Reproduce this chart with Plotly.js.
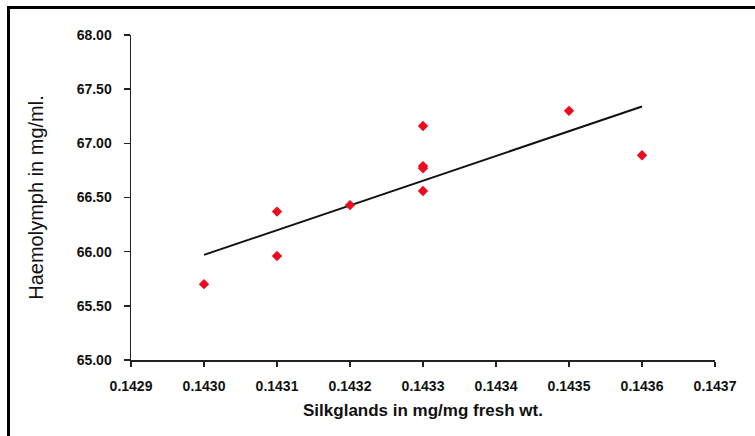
<!DOCTYPE html>
<html>
<head>
<meta charset="utf-8">
<script src="https://cdn.plot.ly/plotly-3.0.1.min.js"></script>
<style>
  html, body { margin: 0; padding: 0; background: #fff; }
  #wrap { position: relative; width: 755px; height: 436px; overflow: hidden; }
  #chart { width: 755px; height: 436px; }
  #frame { position: absolute; left: 7px; top: 6px; width: 900px; height: 600px;
           border-left: 3px solid #000; border-top: 3px solid #000; pointer-events: none; }
</style>
</head>
<body>
<div id="wrap">
  <div id="chart"></div>
  <div id="frame"></div>
</div>
<script>
// Data
const silkglands = [0.1430, 0.1431, 0.1431, 0.1432, 0.1433, 0.1433, 0.1433, 0.1433, 0.1435, 0.1436];
const haemolymph = [65.70, 66.37, 65.96, 66.43, 67.16, 66.77, 66.79, 66.56, 67.30, 66.89];
// Trend line end points as drawn in the reference
const trendX = [0.1430, 0.1436];
const trendY = [65.97, 67.34];
// Axis ticks
const xTicks = [0.1429, 0.1430, 0.1431, 0.1432, 0.1433, 0.1434, 0.1435, 0.1436, 0.1437];
const xTickText = ["0.1429", "0.1430", "0.1431", "0.1432", "0.1433", "0.1434", "0.1435", "0.1436", "0.1437"];
const yTicks = [65.0, 65.5, 66.0, 66.5, 67.0, 67.5, 68.0];
const yTickText = ["65.00", "65.50", "66.00", "66.50", "67.00", "67.50", "68.00"];

const FONT = "Liberation Sans, Arial, Helvetica, sans-serif";

const traces = [
  {
    x: trendX, y: trendY, type: "scatter", mode: "lines",
    line: { color: "#111111", width: 2 }, hoverinfo: "skip", showlegend: false
  },
  {
    x: silkglands, y: haemolymph, type: "scatter", mode: "markers",
    marker: { symbol: "diamond", size: 8, color: "#ee0a1e", line: { width: 0 } },
    showlegend: false
  }
];

const layout = {
  width: 755, height: 436,
  margin: { l: 131, r: 40, t: 35, b: 76 },
  paper_bgcolor: "#ffffff", plot_bgcolor: "#ffffff",
  showlegend: false,
  font: { family: FONT, color: "#111111" },
  xaxis: {
    range: [0.1429, 0.1437],
    tickmode: "array", tickvals: xTicks, ticktext: xTickText,
    showgrid: false, zeroline: false,
    showline: true, linecolor: "#222222", linewidth: 1.5,
    ticks: "outside", ticklen: 5, tickwidth: 1.5, tickcolor: "#222222",
    ticklabelstandoff: 8,
    tickfont: { family: FONT, size: 14, weight: "bold", color: "#111111" },
    title: { text: "Silkglands in mg/mg fresh wt.", standoff: 11,
             font: { family: FONT, size: 17, weight: "bold", color: "#111111" } },
    automargin: false
  },
  yaxis: {
    range: [65, 68],
    tickmode: "array", tickvals: yTicks, ticktext: yTickText,
    showgrid: false, zeroline: false,
    showline: true, linecolor: "#222222", linewidth: 1.5,
    ticks: "outside", ticklen: 6, tickwidth: 1.5, tickcolor: "#222222",
    ticklabelstandoff: 9,
    tickfont: { family: FONT, size: 14, weight: "bold", color: "#111111" },
    title: { text: "Haemolymph in mg/ml.", standoff: 27,
             font: { family: FONT, size: 20, color: "#111111" } },
    automargin: false
  }
};

Plotly.newPlot("chart", traces, layout, { displayModeBar: false, staticPlot: true });
</script>
</body>
</html>
